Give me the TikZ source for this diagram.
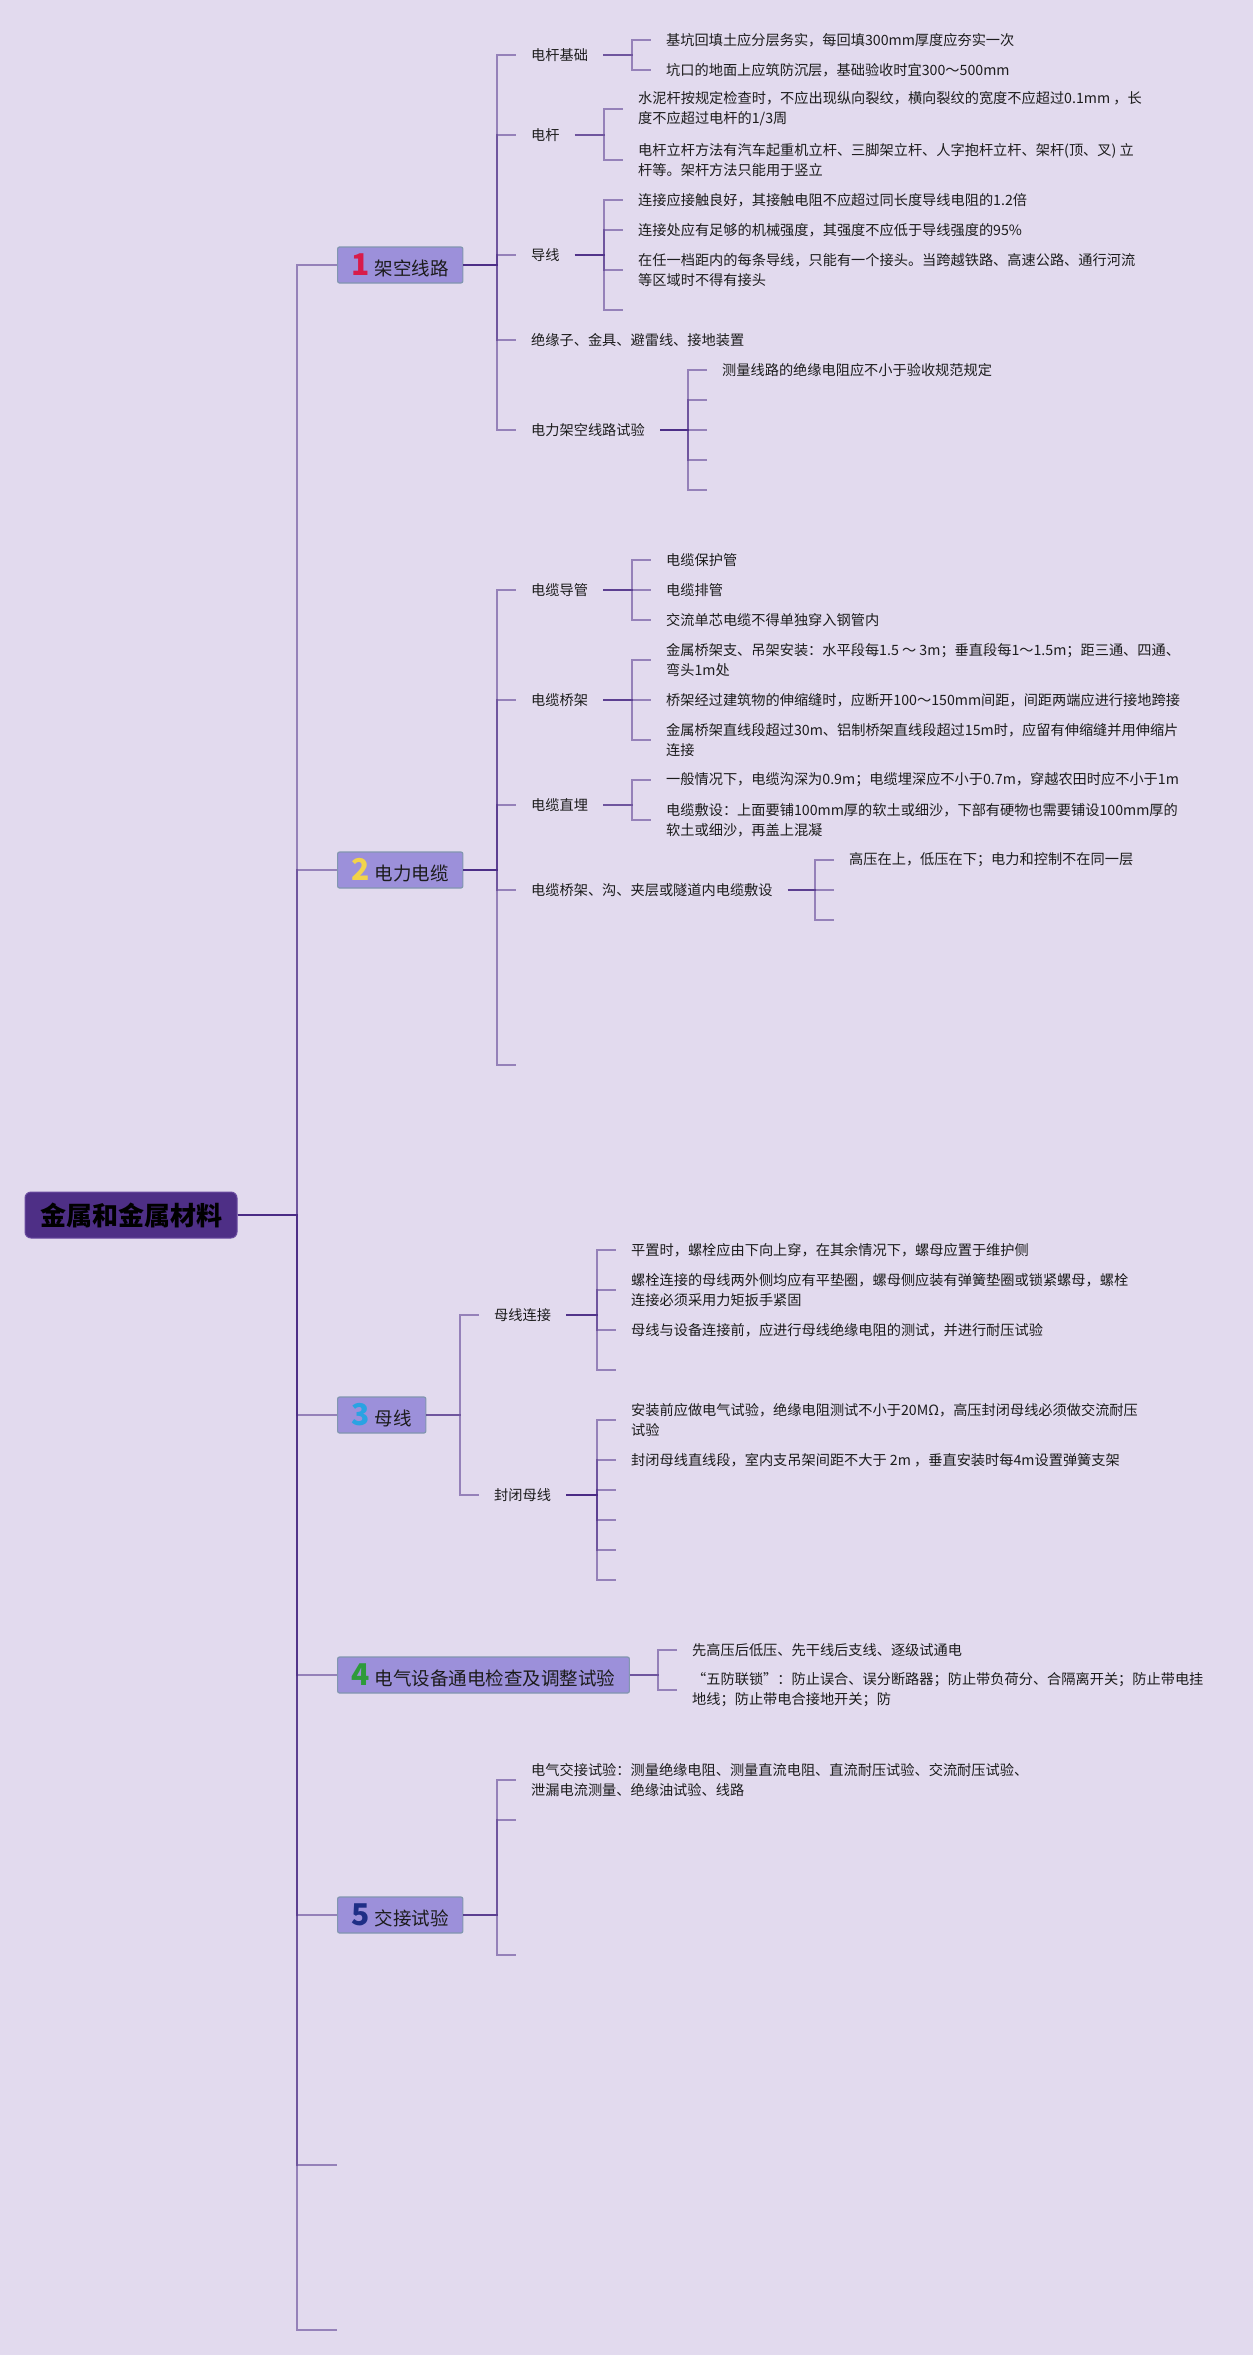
\documentclass[tikz,border=0pt]{standalone}
\usepackage{fontspec}
\setmainfont{Noto Sans CJK SC}
\definecolor{bgc}{HTML}{E2DAEE}
\definecolor{lc}{HTML}{4A2A85}
\definecolor{boxf}{HTML}{9C90DA}
\definecolor{boxd}{HTML}{8296B0}
\definecolor{rootf}{HTML}{4E2F86}
\definecolor{rootd}{HTML}{6A4CA0}
\definecolor{txc}{HTML}{1C1C1C}
\definecolor{cone}{HTML}{D81B4A}
\definecolor{ctwo}{HTML}{F2D34A}
\definecolor{cthree}{HTML}{29A3E3}
\definecolor{cfour}{HTML}{2E9B3A}
\definecolor{cfive}{HTML}{1E2E86}
\tikzset{
  conn/.style={draw=lc, line width=2pt, draw opacity=0.5},
  txt/.style={anchor=west, inner xsep=15pt, inner ysep=2pt, align=left, text=txc, font=\fontsize{14.2}{20}\selectfont},
  lonebox/.style={anchor=west, fill=boxf, draw=boxd, line width=1.2pt, rounded corners=2pt, minimum height=36pt, inner xsep=14pt, inner ysep=0pt, text=txc, font=\fontsize{18.5}{22}\selectfont},
  rootbox/.style={fill=rootf, draw=rootd, line width=1pt, rounded corners=6pt, minimum height=46pt, minimum width=212pt, inner sep=0pt, text=black, font=\fontsize{26}{30}\selectfont\bfseries},
}
\newcommand{\numb}[2]{{\fontsize{30}{30}\selectfont\bfseries\color{#1}#2}\hspace{5pt}}
\newcommand{\lnk}[2]{\draw[conn] (#1.east) -| ([xshift=-19.5pt]#2.west) -- (#2.west);}
\newcommand{\lnkc}[2]{\draw[conn] (#1.east) -| ([xshift=-19.5pt]#2) -- (#2);}
\begin{document}
\begin{tikzpicture}[x=1pt,y=-1pt]
\fill[bgc] (0,0) rectangle (1253,2355);
\useasboundingbox (0,0) rectangle (1253,2355);

% root
\node[rootbox] (root) at (131,1215) {金属和金属材料};

% level 1
\node[lonebox] (b1) at (337,265) {\numb{cone}{1}架空线路};
\node[lonebox] (b2) at (337,870) {\numb{ctwo}{2}电力电缆};
\node[lonebox] (b3) at (337,1415) {\numb{cthree}{3}母线};
\node[lonebox] (b4) at (337,1675) {\numb{cfour}{4}电气设备通电检查及调整试验};
\node[lonebox] (b5) at (337,1915) {\numb{cfive}{5}交接试验};
\coordinate (t6) at (337,2165);
\coordinate (t7) at (337,2330);

\foreach \b in {b1,b2,b3,b4,b5}{\draw[conn] (root.east) -| ([xshift=-40pt]\b.west) -- (\b.west);}
\foreach \b in {t6,t7}{\draw[conn] (root.east) -| ([xshift=-40pt]\b) -- (\b);}

% ===== 1 架空线路
\node[txt] (a1) at (516,55) {电杆基础};
\node[txt] (a2) at (516,135) {电杆};
\node[txt] (a3) at (516,255) {导线};
\node[txt] (a4) at (516,340) {绝缘子、金具、避雷线、接地装置};
\node[txt] (a5) at (516,430) {电力架空线路试验};
\foreach \c in {a1,a2,a3,a4,a5}{\lnk{b1}{\c}}

\node[txt] (a11) at (651,40) {基坑回填土应分层务实，每回填300mm厚度应夯实一次};
\node[txt] (a12) at (651,70) {坑口的地面上应筑防沉层，基础验收时宜300～500mm};
\lnk{a1}{a11}\lnk{a1}{a12}

\node[txt] (a21) at (623,109) {水泥杆按规定检查时，不应出现纵向裂纹，横向裂纹的宽度不应超过0.1mm ，长\\度不应超过电杆的1/3周};
\node[txt] (a22) at (623,160) {电杆立杆方法有汽车起重机立杆、三脚架立杆、人字抱杆立杆、架杆(顶、叉) 立\\杆等。架杆方法只能用于竖立};
\lnk{a2}{a21}\lnk{a2}{a22}

\node[txt] (a31) at (623,200) {连接应接触良好，其接触电阻不应超过同长度导线电阻的1.2倍};
\node[txt] (a32) at (623,230) {连接处应有足够的机械强度，其强度不应低于导线强度的95\%};
\node[txt] (a33) at (623,270) {在任一档距内的每条导线，只能有一个接头。当跨越铁路、高速公路、通行河流\\等区域时不得有接头};
\coordinate (a34) at (623,310);
\lnk{a3}{a31}\lnk{a3}{a32}\lnk{a3}{a33}\lnkc{a3}{a34}

\node[txt] (a51) at (707,370) {测量线路的绝缘电阻应不小于验收规范规定};
\coordinate (a52) at (707,400);
\coordinate (a53) at (707,430);
\coordinate (a54) at (707,460);
\coordinate (a55) at (707,490);
\lnk{a5}{a51}
\foreach \c in {a52,a53,a54,a55}{\lnkc{a5}{\c}}

% ===== 2 电力电缆
\node[txt] (p1) at (516,590) {电缆导管};
\node[txt] (p2) at (516,700) {电缆桥架};
\node[txt] (p3) at (516,805) {电缆直埋};
\node[txt] (p4) at (516,890) {电缆桥架、沟、夹层或隧道内电缆敷设};
\coordinate (p5) at (516,1065);
\foreach \c in {p1,p2,p3,p4}{\lnk{b2}{\c}}
\lnkc{b2}{p5}

\node[txt] (p11) at (651,560) {电缆保护管};
\node[txt] (p12) at (651,590) {电缆排管};
\node[txt] (p13) at (651,620) {交流单芯电缆不得单独穿入钢管内};
\lnk{p1}{p11}\lnk{p1}{p12}\lnk{p1}{p13}

\node[txt] (p21) at (651,660) {金属桥架支、吊架安装：水平段每1.5 ～ 3m；垂直段每1～1.5m；距三通、四通、\\弯头1m处};
\node[txt] (p22) at (651,700) {桥架经过建筑物的伸缩缝时，应断开100～150mm间距，间距两端应进行接地跨接};
\node[txt] (p23) at (651,740) {金属桥架直线段超过30m、铝制桥架直线段超过15m时，应留有伸缩缝并用伸缩片\\连接};
\lnk{p2}{p21}\lnk{p2}{p22}\lnk{p2}{p23}

\node[txt] (p31) at (651,780) {一般情况下，电缆沟深为0.9m；电缆埋深应不小于0.7m，穿越农田时应不小于1m};
\node[txt] (p32) at (651,820) {电缆敷设：上面要铺100mm厚的软土或细沙，下部有硬物也需要铺设100mm厚的\\软土或细沙，再盖上混凝};
\lnk{p3}{p31}\lnk{p3}{p32}

\node[txt] (p41) at (834,860) {高压在上，低压在下；电力和控制不在同一层};
\coordinate (p42) at (834,890);
\coordinate (p43) at (834,920);
\lnk{p4}{p41}\lnkc{p4}{p42}\lnkc{p4}{p43}

% ===== 3 母线
\node[txt] (m1) at (479,1315) {母线连接};
\node[txt] (m2) at (479,1495) {封闭母线};
\lnk{b3}{m1}\lnk{b3}{m2}

\node[txt] (m11) at (616,1250) {平置时，螺栓应由下向上穿，在其余情况下，螺母应置于维护侧};
\node[txt] (m12) at (616,1290) {螺栓连接的母线两外侧均应有平垫圈，螺母侧应装有弹簧垫圈或锁紧螺母，螺栓\\连接必须采用力矩扳手紧固};
\node[txt] (m13) at (616,1330) {母线与设备连接前，应进行母线绝缘电阻的测试，并进行耐压试验};
\coordinate (m14) at (616,1370);
\lnk{m1}{m11}\lnk{m1}{m12}\lnk{m1}{m13}\lnkc{m1}{m14}

\node[txt] (m21) at (616,1420) {安装前应做电气试验，绝缘电阻测试不小于20MΩ，高压封闭母线必须做交流耐压\\试验};
\node[txt] (m22) at (616,1460) {封闭母线直线段，室内支吊架间距不大于 2m ，垂直安装时每4m设置弹簧支架};
\coordinate (m23) at (616,1490);
\coordinate (m24) at (616,1520);
\coordinate (m25) at (616,1550);
\coordinate (m26) at (616,1580);
\lnk{m2}{m21}\lnk{m2}{m22}
\foreach \c in {m23,m24,m25,m26}{\lnkc{m2}{\c}}

% ===== 4 电气设备通电检查及调整试验
\node[txt] (d1) at (677,1650) {先高压后低压、先干线后支线、逐级试通电};
\node[txt] (d2) at (677,1690) {“五防联锁”：防止误合、误分断路器；防止带负荷分、合隔离开关；防止带电挂\\地线；防止带电合接地开关；防};
\lnk{b4}{d1}\lnk{b4}{d2}

% ===== 5 交接试验
\node[txt] (j1) at (516,1780) {电气交接试验：测量绝缘电阻、测量直流电阻、直流耐压试验、交流耐压试验、\\泄漏电流测量、绝缘油试验、线路};
\coordinate (j2) at (516,1820);
\coordinate (j3) at (516,1955);
\lnk{b5}{j1}\lnkc{b5}{j2}\lnkc{b5}{j3}
\end{tikzpicture}
\end{document}
